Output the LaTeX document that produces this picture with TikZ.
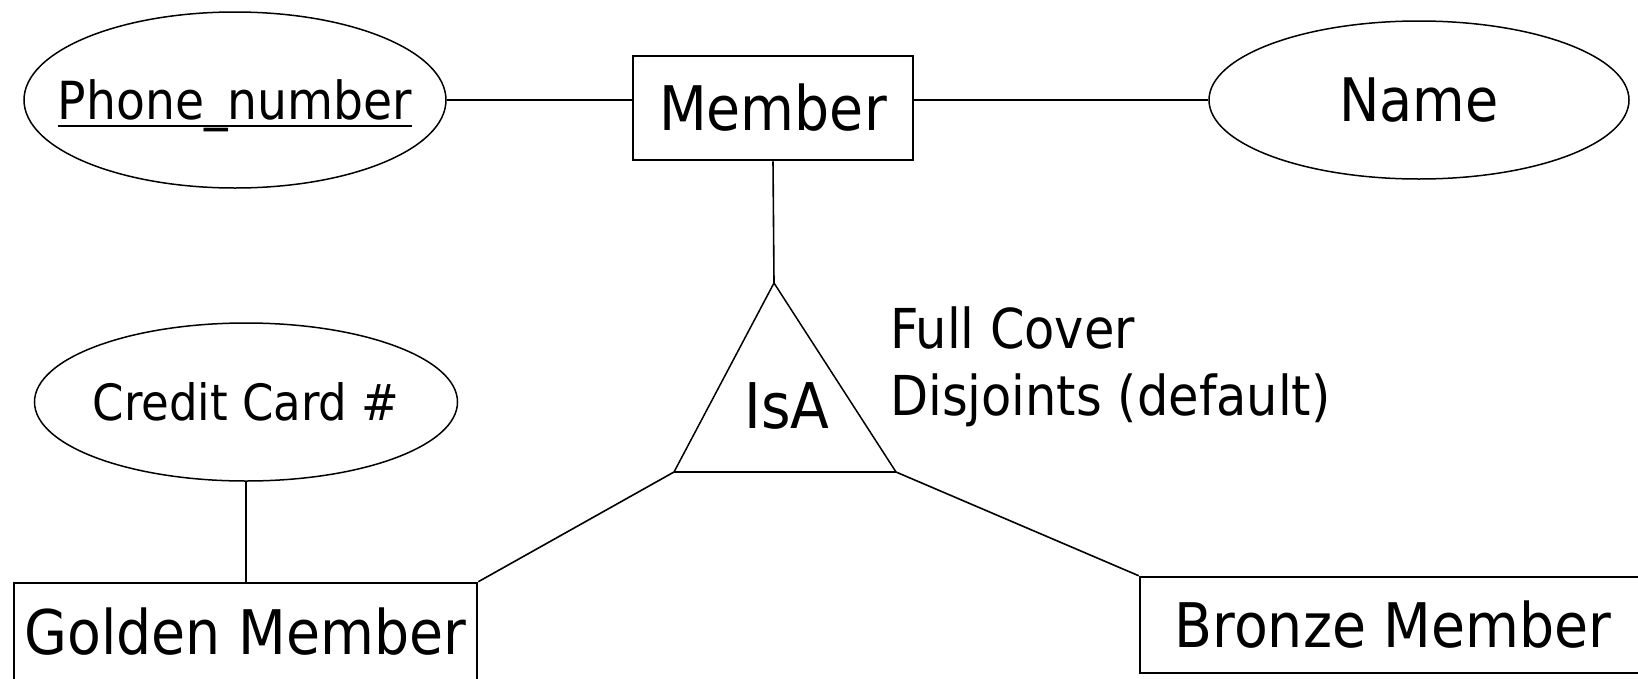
\documentclass[tikz,border=0pt]{standalone}
\usepackage{fontspec}
\setmainfont{DejaVu Sans Condensed}
\usepackage{tikz}
\usetikzlibrary{shapes.geometric, positioning, calc}

\newcommand{\attrlabel}[1]{\makebox[0pt]{#1}}
\newcommand{\keyline}[1]{\setbox0\hbox{#1}\rlap{\rule[-8pt]{\wd0}{2.5pt}}\box0}

\begin{document}
\begin{tikzpicture}[x=1pt, y=-1pt,
        entity/.style={draw, line width=2.5pt, rectangle, inner sep=0pt, text height=44.8pt, text depth=0pt, font=\fontsize{61.5}{72}\selectfont},
        attr/.style={draw, line width=1.5pt, ellipse, inner sep=0pt, text depth=0pt},
        note/.style={font=\fontsize{55}{66}\selectfont, inner sep=0pt, anchor=base west},
        link/.style={line width=1.6pt}]

        \useasboundingbox (0,0) rectangle (1638,678);
        \clip (0,0) rectangle (1638,678);

        % Entities
        \node[entity, minimum width=280, minimum height=104] (member) at (773,108) {Member};
        \node[entity, minimum width=463, minimum height=99] (golden) at (245.5,632.5) {Golden Member};
        \node[entity, minimum width=506, minimum height=96] (bronze) at (1393,625) {Bronze Member};

        % Attributes
        \node[attr, minimum width=422, minimum height=176, text height=38pt, font=\fontsize{52.5}{63}\selectfont] (phone) at (235,100) {\attrlabel{\keyline{Phone\_number}}};
        \node[attr, minimum width=420, minimum height=158, text height=43.7pt, font=\fontsize{60}{72}\selectfont] (name) at (1419,100) {\attrlabel{Name}};
        \node[attr, minimum width=423, minimum height=158, text height=36.5pt, font=\fontsize{50}{60}\selectfont] (card) at (246,402) {\attrlabel{Credit Card \#}};

        % IsA triangle
        \coordinate (isatop) at (774,283);
        \coordinate (isaleft) at (674,472);
        \coordinate (isaright) at (896,472);
        \draw[line width=1.5pt, line join=round] (isaleft) -- (isatop) -- (isaright);
        \draw[line width=2.5pt] (isaleft) -- (isaright);
        \node[font=\fontsize{63}{75}\selectfont, inner sep=0pt] (isa) at (787,428) [anchor=base] {IsA};

        % Constraint labels
        \node[note] (cover) at (890,348) {Full Cover};
        \node[note] (disjoint) at (890,415) {Disjoints (default)};

        % Connectors
        \draw[link] (phone.east) -- (phone.east -| member.west);
        \draw[link] (member.east |- name.west) -- (name.west);
        \draw[link] (member.south) -- (isatop);
        \draw[link] (isaleft) -- (golden.north east);
        \draw[link] (isaright) -- (bronze.north west);
        \draw[link] (card.south) -- (card.south |- golden.north);

    \end{tikzpicture}
\end{document}
